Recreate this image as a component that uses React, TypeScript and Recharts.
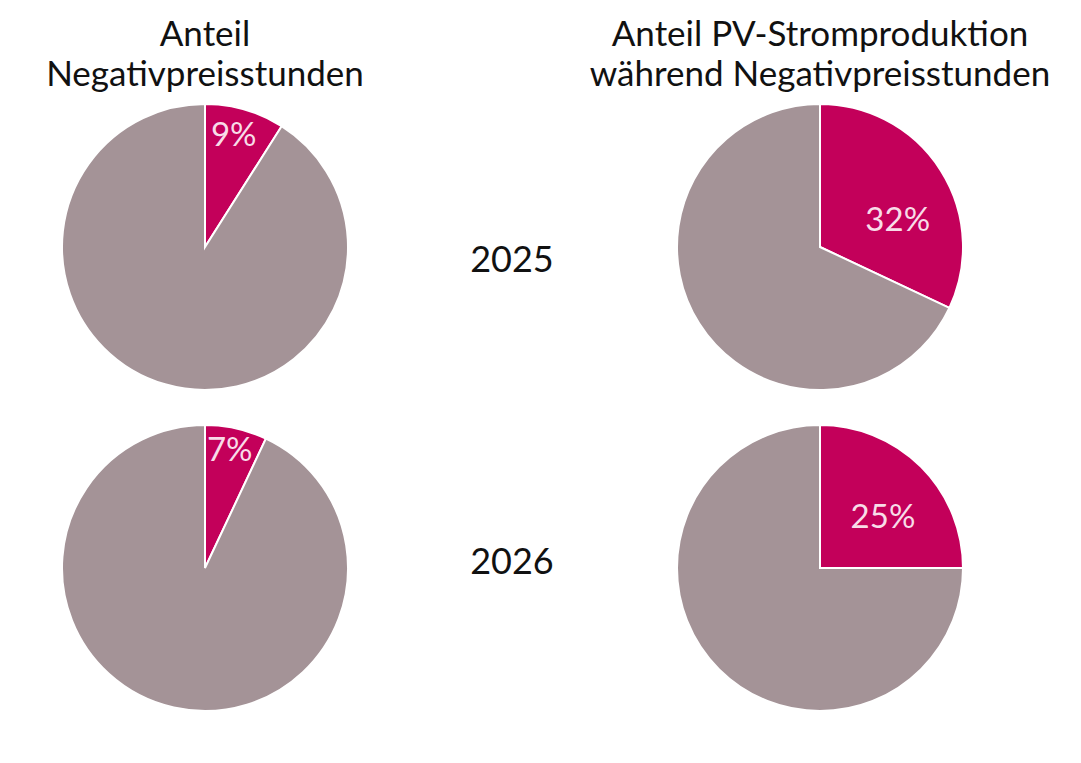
import React from 'react';
import { PieChart, Pie, Cell } from 'recharts';

const columnTitles = [
  ['Anteil', 'Negativpreisstunden'],
  ['Anteil PV-Stromproduktion', 'während Negativpreisstunden'],
];
const years = ['2025', '2026'];
const negHoursShare = [9, 7];
const pvShare = [32, 25];

const MAGENTA = '#C3005A';
const GREY = '#A49397';
const FONT = 'Lato, "Open Sans", sans-serif';

const R = 143;
const cols = [205, 820];
const rows = [247, 568];

const makeData = (v: number) => [
  { name: 'share', value: v },
  { name: 'rest', value: 100 - v },
];

const makeLabel = (rFrac: number, angleShift: number) => (props: any) => {
  const { cx, cy, midAngle, outerRadius, index, value } = props;
  if (index !== 0) return null;
  const a = ((midAngle + angleShift) * Math.PI) / 180;
  const r = outerRadius * rFrac;
  const x = cx + r * Math.cos(a);
  const y = cy - r * Math.sin(a);
  return (
    <text
      x={x}
      y={y}
      fill="#F8DCE8"
      fontSize={33}
      fontFamily={FONT}
      textAnchor="middle"
      dominantBaseline="central"
    >
      {`${value}%`}
    </text>
  );
};

const labelCfg = [
  [
    [0.82, 2],
    [0.86, 1],
  ],
  [
    [0.58, -12],
    [0.575, -5],
  ],
];

export default function App() {
  const series = [negHoursShare, pvShare];
  return (
    <div style={{ position: 'absolute', left: 0, top: 0, width: 1081, height: 763, background: '#fff', fontFamily: FONT }}>
      <PieChart width={1081} height={763} margin={{ top: 0, right: 0, bottom: 0, left: 0 }}>
        {series.map((vals, c) =>
          vals.map((v, r) => (
            <Pie
              key={`${c}-${r}`}
              data={makeData(v)}
              dataKey="value"
              cx={cols[c]}
              cy={rows[r]}
              outerRadius={R}
              startAngle={90}
              endAngle={-270}
              stroke="#ffffff"
              strokeWidth={2}
              isAnimationActive={false}
              labelLine={false}
              label={makeLabel(labelCfg[c][r][0], labelCfg[c][r][1])}
            >
              <Cell fill={MAGENTA} />
              <Cell fill={GREY} />
            </Pie>
          ))
        )}
      </PieChart>
      {columnTitles.map((lines, c) => (
        <div
          key={c}
          style={{
            position: 'absolute',
            left: cols[c] - 300,
            width: 600,
            top: 12,
            textAlign: 'center',
            fontSize: 35,
            lineHeight: '40px',
            color: '#111',
          }}
        >
          {lines.map((l) => (
            <div key={l}>{l}</div>
          ))}
        </div>
      ))}
      {years.map((y, r) => (
        <div
          key={y}
          style={{
            position: 'absolute',
            left: 412,
            width: 200,
            top: [236, 538][r],
            textAlign: 'center',
            fontSize: 36,
            lineHeight: '44px',
            color: '#111',
          }}
        >
          {y}
        </div>
      ))}
    </div>
  );
}
